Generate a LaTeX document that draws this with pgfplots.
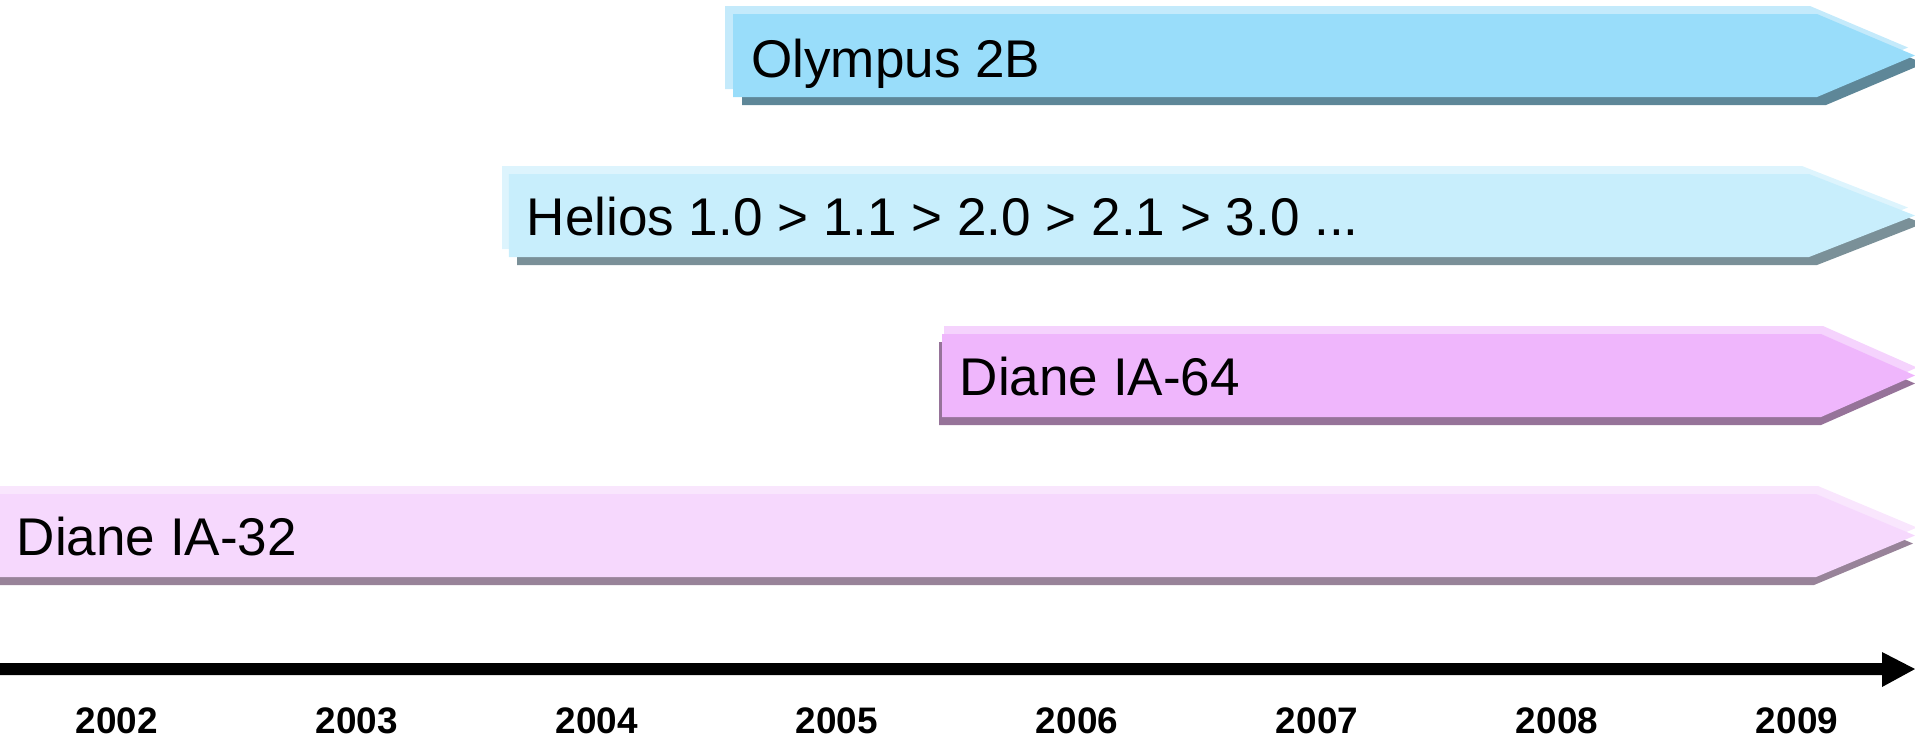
\documentclass[border=0pt]{standalone}
\usepackage{fontspec}
\setmainfont{Liberation Sans}
\usepackage{pgfplots}
\pgfplotsset{compat=1.18}
\definecolor{olyMain}{HTML}{99DDFA}
\definecolor{olyLight}{HTML}{C4EAFB}
\definecolor{olyShadow}{HTML}{5E8798}
\definecolor{helMain}{HTML}{C8EEFC}
\definecolor{helLight}{HTML}{DDF4FD}
\definecolor{helShadow}{HTML}{7A9098}
\definecolor{i64Main}{HTML}{EFB6FC}
\definecolor{i64Light}{HTML}{F5D3FD}
\definecolor{i64Shadow}{HTML}{967399}
\definecolor{i32Main}{HTML}{F6D8FD}
\definecolor{i32Light}{HTML}{F9E6FD}
\definecolor{i32Shadow}{HTML}{988399}
\newcommand{\labelfont}{\fontsize{15.1}{17}\selectfont}
\begin{document}
\begin{tikzpicture}
\begin{axis}[
  scale only axis,
  width=19.15cm, height=7.38cm,
  xmin=2001.5125, xmax=2009.4917,
  ymin=0, ymax=738, y dir=reverse,
  axis line style={draw=none},
  tick style={draw=none},
  major tick length=0pt,
  ytick=\empty,
  xtick={2002,2003,2004,2005,2006,2007,2008,2009},
  xticklabels={2002,2003,2004,2005,2006,2007,2008,2009},
  xticklabel style={anchor=base, yshift=0.5mm, font=\fontsize{10.5}{12}\selectfont\bfseries},
  clip=true,
]
% ---- Olympus 2B ----
\addplot[fill=olyShadow, draw=none] coordinates {(2004.6042,22) (2009.1208,22) (2009.5292,63.5) (2009.1208,105) (2004.6042,105)} -- cycle;
\addplot[fill=olyLight, draw=none] coordinates {(2004.5333,6) (2009.0542,6) (2009.4625,47.5) (2009.0542,89) (2004.5333,89)} -- cycle;
\addplot[fill=olyMain, draw=none] coordinates {(2004.5667,14) (2009.0833,14) (2009.4917,55.5) (2009.0833,97) (2004.5667,97)} -- cycle;
% ---- Helios ----
\addplot[fill=helShadow, draw=none] coordinates {(2003.6667,182) (2009.0833,182) (2009.5250,223.5) (2009.0833,265) (2003.6667,265)} -- cycle;
\addplot[fill=helLight, draw=none] coordinates {(2003.6042,166) (2009.0208,166) (2009.4625,207.5) (2009.0208,249) (2003.6042,249)} -- cycle;
\addplot[fill=helMain, draw=none] coordinates {(2003.6333,174) (2009.0500,174) (2009.4917,215.5) (2009.0500,257) (2003.6333,257)} -- cycle;
% ---- Diane IA-64 ----
\addplot[fill=i64Shadow, draw=none] coordinates {(2005.4250,342) (2009.1000,342) (2009.4917,383.5) (2009.1000,425) (2005.4250,425)} -- cycle;
\addplot[fill=i64Light, draw=none] coordinates {(2005.4458,326) (2009.1083,326) (2009.5000,367.5) (2009.1083,409) (2005.4458,409)} -- cycle;
\addplot[fill=i64Main, draw=none] coordinates {(2005.4375,334) (2009.1000,334) (2009.4917,375.5) (2009.1000,417) (2005.4375,417)} -- cycle;
% ---- Diane IA-32 ----
\addplot[fill=i32Shadow, draw=none] coordinates {(2001.4292,502) (2009.0708,502) (2009.4833,543.5) (2009.0708,585) (2001.4292,585)} -- cycle;
\addplot[fill=i32Light, draw=none] coordinates {(2001.4292,486) (2009.0875,486) (2009.5000,527.5) (2009.0875,569) (2001.4292,569)} -- cycle;
\addplot[fill=i32Main, draw=none] coordinates {(2001.4292,494) (2009.0792,494) (2009.4917,535.5) (2009.0792,577) (2001.4292,577)} -- cycle;
% ---- time axis arrow ----
\addplot[fill=black, draw=none] coordinates {(2001.4292,663) (2009.3542,663) (2009.3542,652) (2009.4917,669) (2009.3542,687) (2009.3542,675) (2001.4292,675)} -- cycle;
% ---- labels ----
\node[anchor=base west, inner sep=0pt, font=\labelfont] at (axis cs:2004.6396,77) {Olympus 2B};
\node[anchor=base west, inner sep=0pt, font=\labelfont] at (axis cs:2003.7042,235) {Helios 1.0 > 1.1 > 2.0 > 2.1 > 3.0 ...};
\node[anchor=base west, inner sep=0pt, font=\labelfont] at (axis cs:2005.5083,395) {Diane IA-64};
\node[anchor=base west, inner sep=0pt, font=\labelfont] at (axis cs:2001.5792,555) {Diane IA-32};
\end{axis}
\pgfresetboundingbox
\useasboundingbox (current axis.south west) rectangle (current axis.north east);
\end{tikzpicture}
\end{document}
